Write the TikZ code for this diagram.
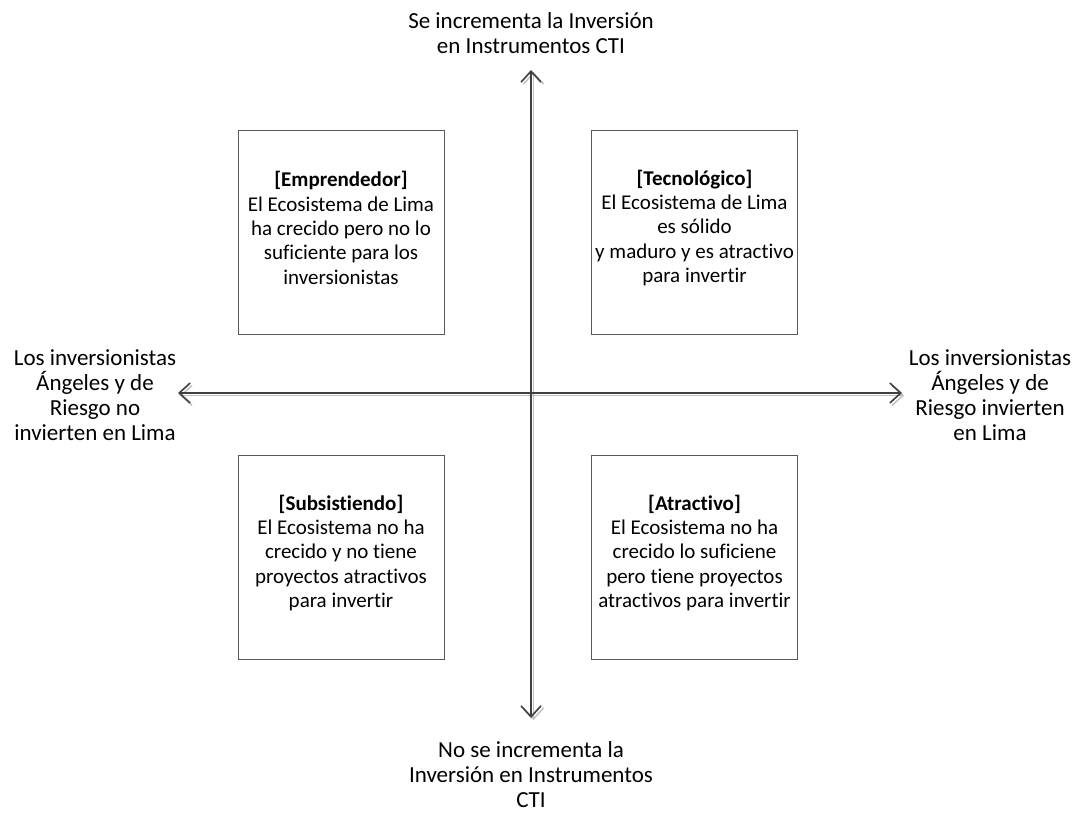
\documentclass[tikz,border=0pt]{standalone}
\usepackage{fontspec}
\setmainfont{Carlito}[Ligatures=NoCommon]
\usetikzlibrary{arrows.meta}
\begin{document}
\begin{tikzpicture}[x=1pt,y=-1pt,
  quad/.style={draw=black!65, line width=0.9pt, minimum width=206pt, minimum height=204pt, inner sep=0pt},
  qtext/.style={align=center, font=\fontsize{21}{24.4}\selectfont, inner sep=0pt},
  lbl/.style={align=center, font=\fontsize{23}{25}\selectfont, inner sep=0pt},
  axis/.style={draw=black!75, line width=1.6pt, {Straight Barb[length=11pt,width=20pt,line width=1.6pt]}-{Straight Barb[length=11pt,width=20pt,line width=1.6pt]}},
  axshadow/.style={draw=black!25, line width=1.4pt, {Straight Barb[length=11pt,width=20pt,line width=1.4pt]}-{Straight Barb[length=11pt,width=20pt,line width=1.4pt]}}]
\useasboundingbox (0,0) rectangle (1075,812);
\fill[white] (0,0) rectangle (1075,812);
% axes
\coordinate (top) at (531,70);
\coordinate (bot) at (531,718);
\coordinate (lft) at (178,393);
\coordinate (rgt) at (902,393);
\coordinate (tops) at (533.5,72);
\coordinate (bots) at (533.5,720);
\coordinate (lfts) at (180,395.5);
\coordinate (rgts) at (904,395.5);
\draw[axshadow] (bots) -- (tops);
\draw[axshadow] (lfts) -- (rgts);
\draw[axis] (bot) -- (top);
\draw[axis] (lft) -- (rgt);
% boxes
\node[quad] (emp) at (341,232) {};
\node[quad] (tec) at (694.5,232) {};
\node[quad] (sub) at (341,557) {};
\node[quad] (atr) at (694.5,557) {};
\node[qtext] (empt) at ([yshift=4pt]emp.center) {\textbf{[Emprendedor]}\\El Ecosistema de Lima\\ha crecido pero no lo\\suficiente para los\\inversionistas};
\node[qtext] (tect) at ([yshift=4pt]tec.center) {\textbf{[Tecnológico]}\\El Ecosistema de Lima\\es sólido\\ y maduro y es atractivo\\para invertir};
\node[qtext] (subt) at ([yshift=4pt]sub.center) {\textbf{[Subsistiendo]}\\El Ecosistema no ha\\crecido y no tiene\\proyectos atractivos\\para invertir};
\node[qtext] (atrt) at ([yshift=4pt]atr.center) {\textbf{[Atractivo]}\\El Ecosistema no ha\\crecido lo suficiene\\pero tiene proyectos\\atractivos para invertir};
% axis labels
\node[lbl] (tl) at (531,33) {Se incrementa la Inversión\\en Instrumentos CTI};
\node[lbl] (bl) at (531,775) {No se incrementa la\\Inversión en Instrumentos\\CTI};
\node[lbl] (ll) at (95,395) {Los inversionistas\\Ángeles y de\\Riesgo no\\invierten en Lima};
\node[lbl] (rl) at (990,395) {Los inversionistas\\Ángeles y de\\Riesgo invierten\\en Lima};
\end{tikzpicture}
\end{document}
